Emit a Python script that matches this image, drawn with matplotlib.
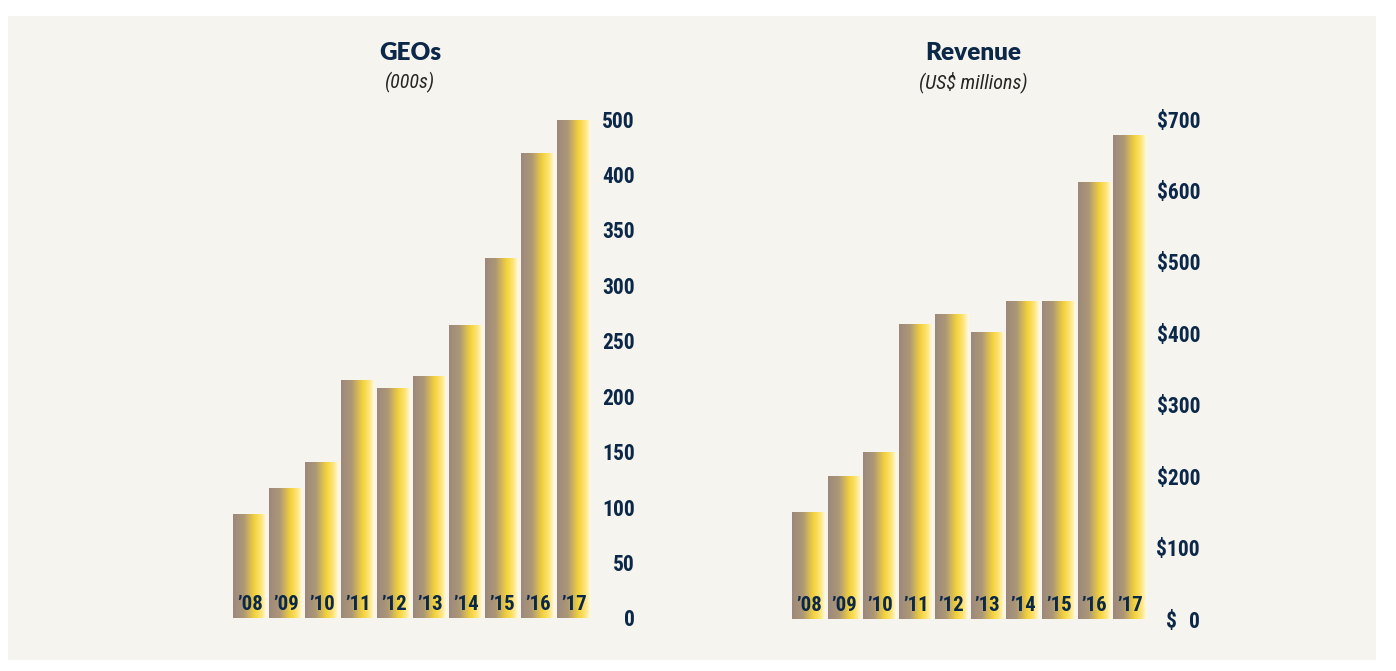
import numpy as np
import matplotlib
matplotlib.use("Agg")
import matplotlib.pyplot as plt
from matplotlib import font_manager
from matplotlib.colors import LinearSegmentedColormap
from matplotlib.patches import Rectangle

# Data

YEARS = ["\u201908", "\u201909", "\u201910", "\u201911", "\u201912",
         "\u201913", "\u201914", "\u201915", "\u201916", "\u201917"]
GEOS = [104, 130, 156, 238, 230, 242, 294, 361, 466, 499]          # 000s
REVENUE = [150, 200, 234, 413, 427, 402, 445, 445, 612, 678]       # US$ millions

# the source puts these ten labels evenly on a 0-500 axis (450 is skipped)
GEO_TICK_LABELS = ["0", "50", "100", "150", "200", "250", "300", "350", "400", "500"]
REV_TICKS = [0, 100, 200, 300, 400, 500, 600, 700]

NAVY = "#0c2849"
PANEL = "#f6f4ef"

# pick a narrow face if there is one, the reference uses a condensed font
_installed = {f.name for f in font_manager.fontManager.ttflist}
_narrow = [n for n in ["Roboto Condensed", "Liberation Sans Narrow", "Arial Narrow",
                       "Open Sans Condensed", "Roboto"] if n in _installed]
NARROW = (_narrow[:1] or []) + ["DejaVu Sans"]

BAR_CMAP = LinearSegmentedColormap.from_list(
    "bar_grad",
    [(0.0, "#9c887c"), (0.32, "#ad9876"), (0.64, "#f4d23c"),
     (0.82, "#fde372"), (1.0, "#fffbec")])

W, H = 1396, 671


def px_box(left, bottom_px, right, top_px):
    """axes rectangle from pixel coordinates (origin top-left)"""
    return [left / W, 1 - bottom_px / H, (right - left) / W, (bottom_px - top_px) / H]


def gradient_bars(ax, values, width=0.94):
    bars = ax.bar(range(len(values)), values, width=width, facecolor="none",
                  edgecolor="none")
    grad = np.linspace(0, 1, 256).reshape(1, -1)
    for b in bars:
        x0, y0 = b.get_x(), b.get_y()
        img = ax.imshow(grad, cmap=BAR_CMAP, aspect="auto", interpolation="bicubic",
                        extent=(x0, x0 + b.get_width(), y0, y0 + b.get_height()),
                        zorder=2)
        img.set_clip_path(b)
    for i, lab in enumerate(YEARS):
        ax.annotate(lab, xy=(i, 0), xytext=(0, 10), textcoords="offset points",
                    ha="center", va="center", fontsize=15, fontweight="bold",
                    family=NARROW, color=NAVY, zorder=3)
    ax.set_xlim(-0.5, len(values) - 0.5)


def style_axis(ax, pad):
    for s in ax.spines.values():
        s.set_visible(False)
    ax.set_facecolor("none")
    ax.set_xticks([])
    ax.yaxis.tick_right()
    ax.tick_params(axis="y", length=0, pad=pad, labelsize=15.5, labelcolor=NAVY)
    for lab in ax.get_yticklabels():
        lab.set_fontweight("bold")
        lab.set_family(NARROW)
        lab.set_horizontalalignment("right")


fig = plt.figure(figsize=(W / 100, H / 100), dpi=100)
fig.patch.set_facecolor("white")
fig.patches.append(Rectangle((8 / W, 1 - 660 / H), (1376 - 8) / W, (660 - 16) / H,
                             transform=fig.transFigure, facecolor=PANEL,
                             edgecolor="none", zorder=-5))

# GEOs panel
ax1 = fig.add_axes(px_box(232, 618, 592, 119))
gradient_bars(ax1, GEOS)
ax1.set_ylim(0, 500)
ax1.set_yticks(np.linspace(0, 500, len(GEO_TICK_LABELS)))
ax1.set_yticklabels(GEO_TICK_LABELS)
style_axis(ax1, pad=31)

# Revenue panel
ax2 = fig.add_axes(px_box(791, 619, 1148, 119))
gradient_bars(ax2, REVENUE)
ax2.set_ylim(0, 700)
ax2.set_yticks(REV_TICKS)
ax2.set_yticklabels(["0" if v == 0 else f"${v}" for v in REV_TICKS])
style_axis(ax2, pad=37.5)
ax2.annotate("$", xy=(1, 0), xycoords=ax2.get_yaxis_transform(),
             xytext=(13, 0), textcoords="offset points", ha="left",
             va="center_baseline", fontsize=15.5, fontweight="bold",
             family=NARROW, color=NAVY)

# titles
for cx, title, sub in [(410, "GEOs", "(000s)"), (973, "Revenue", "(US$ millions)")]:
    fig.text(cx / W, 1 - 53 / H, title, ha="center", va="center", fontsize=17.5,
             fontweight="heavy", family=["Lato", "DejaVu Sans"], color=NAVY)
    fig.text(cx / W, 1 - 82 / H, sub, ha="center", va="center", fontsize=14.5,
             style="italic", family=NARROW, color="#262626")

fig.savefig("out.png", dpi=100, facecolor=fig.get_facecolor())
